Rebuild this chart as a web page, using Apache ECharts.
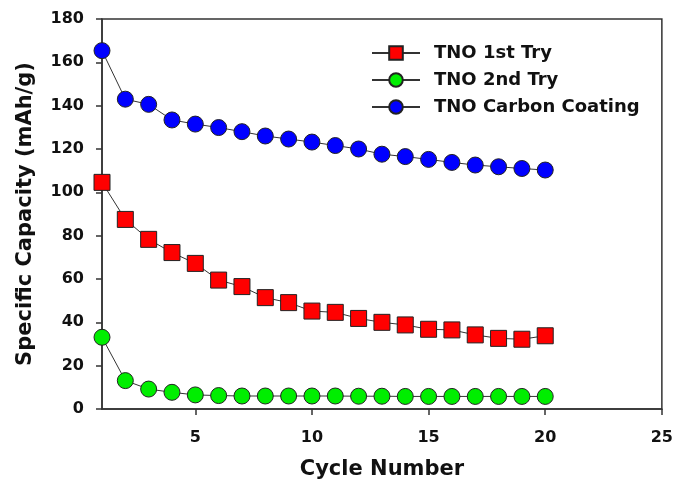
<!DOCTYPE html>
<html><head><meta charset="utf-8">
<script src="https://cdn.jsdelivr.net/npm/echarts@6/dist/echarts.min.js"></script>
<style>html,body{margin:0;padding:0;background:#fff}#c{width:676px;height:491px}</style>
</head><body><div id="c"></div>
<script>
const cycles = [1,2,3,4,5,6,7,8,9,10,11,12,13,14,15,16,17,18,19,20];
const tno1st = [104.6, 87.5, 78.3, 72.2, 67.2, 59.5, 56.5, 51.4, 49.1, 45.2, 44.6, 41.8, 40.0, 38.8, 36.8, 36.5, 34.2, 32.6, 32.2, 33.8];
const tno2nd = [33.1, 13.1, 9.2, 7.7, 6.5, 6.2, 6.0, 6.0, 6.0, 6.0, 6.0, 5.9, 5.9, 5.8, 5.8, 5.8, 5.8, 5.8, 5.8, 5.8];
const tnoCarbon = [165.4, 143.0, 140.6, 133.4, 131.5, 129.9, 128.0, 126.0, 124.6, 123.2, 121.6, 120.0, 117.6, 116.5, 115.2, 113.8, 112.6, 111.8, 111.0, 110.3];
const xTicks = [5, 10, 15, 20, 25];
const seriesNames = ['TNO 1st Try', 'TNO 2nd Try', 'TNO Carbon Coating'];

const FONT = 'DejaVu Sans';
const pair = (ys) => cycles.map((c, i) => [c, ys[i]]);
const mk = (name, ys, symbol, color) => ({
  name, type: 'line', data: pair(ys), symbol, symbolSize: 16,
  lineStyle: { color: '#333', width: 1 },
  itemStyle: { color, borderColor: '#222', borderWidth: 1 },
  emphasis: { disabled: true }, animation: false
});

const chart = echarts.init(document.getElementById('c'));
chart.setOption({
  animation: false,
  grid: { left: 102, right: 13, top: 19, bottom: 82, show: true, borderColor: '#333', borderWidth: 1.5, backgroundColor: 'transparent' },
  legend: {
    data: seriesNames, orient: 'vertical', left: 366, top: 39,
    itemWidth: 48, itemHeight: 17, itemGap: 9,
    textStyle: { fontFamily: FONT, fontWeight: 'bold', fontSize: 18, color: '#111', padding: [0, 0, 0, 9] }
  },
  xAxis: {
    type: 'value', min: 1, max: 25,
    name: 'Cycle Number', nameLocation: 'middle', nameGap: 50,
    nameTextStyle: { fontFamily: FONT, fontWeight: 'bold', fontSize: 21, color: '#111' },
    axisLine: { show: true, lineStyle: { color: '#333', width: 1.5 } },
    axisTick: { show: true, length: 6, lineStyle: { color: '#333', width: 1.5 }, customValues: xTicks },
    axisLabel: { fontFamily: FONT, fontWeight: 'bold', fontSize: 16, color: '#111', margin: 21, customValues: xTicks },
    splitLine: { show: false }
  },
  yAxis: {
    type: 'value', min: 0, max: 180, interval: 20,
    name: 'Specific Capacity (mAh/g)', nameLocation: 'middle', nameGap: 66,
    nameTextStyle: { fontFamily: FONT, fontWeight: 'bold', fontSize: 21, color: '#111' },
    axisLine: { show: true, lineStyle: { color: '#333', width: 1.5 } },
    axisTick: { show: true, length: 6, lineStyle: { color: '#333', width: 1.5 } },
    axisLabel: { fontFamily: FONT, fontWeight: 'bold', fontSize: 16, color: '#111', margin: 18 },
    splitLine: { show: false }
  },
  series: [
    mk(seriesNames[0], tno1st, 'rect', '#ff0000'),
    mk(seriesNames[1], tno2nd, 'circle', '#00ee00'),
    mk(seriesNames[2], tnoCarbon, 'circle', '#0000ff')
  ]
});
</script></body></html>
